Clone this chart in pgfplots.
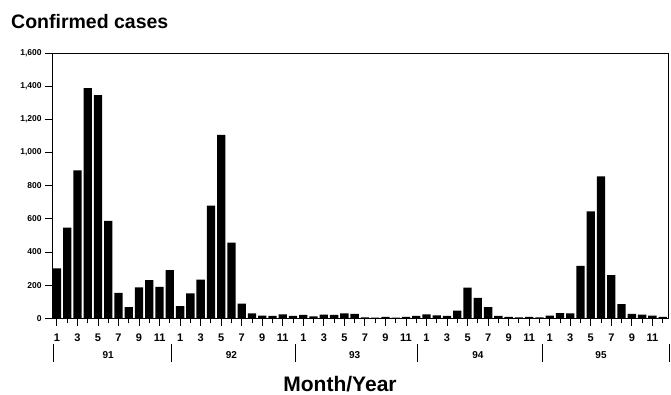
\documentclass[border=0pt]{standalone}
\usepackage{fontspec}
\setmainfont{Liberation Sans}
\usepackage{pgfplots}
\pgfplotsset{compat=1.18}
\begin{document}
\begin{tikzpicture}
\useasboundingbox (0pt,0pt) rectangle (671pt,394pt);
\node[anchor=base west,font=\bfseries\fontsize{19.5}{22}\selectfont,inner sep=0pt] at (11pt,365.5pt) {Confirmed cases};
\node[anchor=base,font=\bfseries\fontsize{21}{24}\selectfont,inner sep=0pt] at (340pt,3pt) {Month/Year};
\begin{axis}[
  at={(52.6pt,75.7pt)}, anchor=south west,
  scale only axis, width=616pt, height=265pt,
  xmin=0.58, xmax=60.58, ymin=0, ymax=1600,
  axis line style={line width=1pt},
  ybar, bar width=8.3pt,
  xtick={1,3,...,59},
  xticklabels={1,3,5,7,9,11,1,3,5,7,9,11,1,3,5,7,9,11,1,3,5,7,9,11,1,3,5,7,9,11},
  minor xtick={2,4,...,60},
  ytick={0,200,...,1600},
  tick align=outside,
  xtick pos=bottom, ytick pos=left,
  major tick length=7.5pt, minor tick length=5pt,
  every tick/.style={line width=0.9pt,black},
  /pgf/number format/assume math mode=true,
  /pgf/number format/1000 sep={,},
  yticklabel style={font=\bfseries\fontsize{8.5}{10}\selectfont},
  xticklabel style={font=\bfseries\fontsize{11}{12}\selectfont,anchor=center,yshift=-12pt},
  clip=false,
]
\addplot[fill=black,draw=none] coordinates {
(1,302)(2,547)(3,893)(4,1390)(5,1348)(6,588)(7,154)(8,68)(9,186)(10,230)(11,190)(12,291)
(13,73)(14,151)(15,233)(16,680)(17,1108)(18,457)(19,88)(20,30)(21,16)(22,14)(23,24)(24,14)
(25,20)(26,12)(27,22)(28,20)(29,30)(30,26)(31,6)(32,4)(33,8)(34,4)(35,8)(36,14)
(37,24)(38,18)(39,14)(40,46)(41,185)(42,123)(43,68)(44,14)(45,8)(46,6)(47,8)(48,6)
(49,16)(50,32)(51,30)(52,317)(53,646)(54,857)(55,260)(56,85)(57,26)(58,22)(59,16)(60,8)
};
\pgfplotsinvokeforeach{0.67,12.13,24.2,36.08,48.29,60.62}{
  \draw[line width=0.9pt] ([yshift=-26pt]axis cs:#1,0) -- ([yshift=-44pt]axis cs:#1,0);
}
\node[font=\bfseries\fontsize{10}{11}\selectfont] at (axis cs:6,0) [yshift=-36.5pt] {91};
\node[font=\bfseries\fontsize{10}{11}\selectfont] at (axis cs:18,0) [yshift=-36.5pt] {92};
\node[font=\bfseries\fontsize{10}{11}\selectfont] at (axis cs:30,0) [yshift=-36.5pt] {93};
\node[font=\bfseries\fontsize{10}{11}\selectfont] at (axis cs:42,0) [yshift=-36.5pt] {94};
\node[font=\bfseries\fontsize{10}{11}\selectfont] at (axis cs:54,0) [yshift=-36.5pt] {95};
\end{axis}
\end{tikzpicture}
\end{document}
